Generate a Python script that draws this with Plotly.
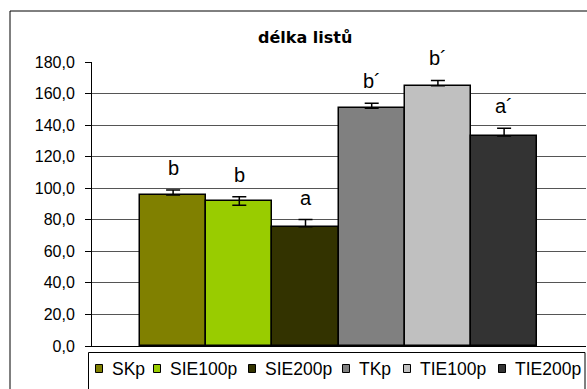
import plotly.graph_objects as go

# Leaf length per treatment
categories = ["SKp", "SIE100p", "SIE200p", "TKp", "TIE100p", "TIE200p"]
leaf_length = [95.7, 91.9, 75.6, 150.7, 164.9, 133.1]
err_plus = [3.2, 2.7, 4.5, 3.2, 3.4, 4.9]
err_minus = [0.0, 2.7, 0.0, 0.0, 0.0, 0.0]
sig_labels = ["b", "b", "a", "b\u00b4", "b\u00b4", "a\u00b4"]
bar_colors = ["#808000", "#99CC00", "#333300", "#808080", "#C0C0C0", "#333333"]

y_tick_values = [0, 20, 40, 60, 80, 100, 120, 140, 160, 180]
y_tick_labels = ["0,0", "20,0", "40,0", "60,0", "80,0", "100,0",
                 "120,0", "140,0", "160,0", "180,0"]

W, H = 587, 389
L, R, T, B = 92, 1, 62, 43
PW, PH = W - L - R, H - T - B
FONT = "Liberation Sans, Arial, sans-serif"


def px_x(px):
    return (px - L) / PW


def px_y(py):
    return (H - B - py) / PH


fig = go.Figure()
fig.add_trace(go.Bar(
    x=categories,
    y=leaf_length,
    marker=dict(color=bar_colors, line=dict(color="black", width=1.5)),
    error_y=dict(type="data", symmetric=False, array=err_plus,
                 arrayminus=err_minus, color="black", thickness=1.5, width=7),
    showlegend=False,
    hoverinfo="x+y",
))

annotations = []
# significance letters above the error bars
for cat, v, e, lab in zip(categories, leaf_length, err_plus, sig_labels):
    annotations.append(dict(
        x=cat, y=v + e, xref="x", yref="y", text=lab, showarrow=False,
        yanchor="bottom", xanchor="center", yshift=9,
        font=dict(family=FONT, size=20, color="black"),
    ))

# chart title
annotations.append(dict(
    x=px_x(305), y=px_y(37), xref="paper", yref="paper",
    text="<b>délka listů</b>", showarrow=False,
    xanchor="center", yanchor="middle",
    font=dict(family="DejaVu Sans, sans-serif", size=16, color="black"),
))

shapes = [
    # outer chart frame
    dict(type="rect", xref="paper", yref="paper",
         x0=px_x(10), x1=px_x(600), y0=px_y(420), y1=px_y(11),
         line=dict(color="black", width=1), fillcolor="rgba(0,0,0,0)",
         layer="below"),
    # legend frame
    dict(type="rect", xref="paper", yref="paper",
         x0=px_x(88.5), x1=px_x(585), y0=px_y(420), y1=px_y(352.5),
         line=dict(color="black", width=1), fillcolor="rgba(0,0,0,0)"),
]

# legend entries: coloured square + label
legend_text_left = [112, 170, 265, 359, 420, 515]
legend_y = 368.5
for name, col, tx in zip(categories, bar_colors, legend_text_left):
    sq = tx - 16.5
    shapes.append(dict(
        type="rect", xref="paper", yref="paper",
        x0=px_x(sq), x1=px_x(sq + 7), y0=px_y(legend_y + 4), y1=px_y(legend_y - 4),
        fillcolor=col, line=dict(color="black", width=1),
    ))
    annotations.append(dict(
        x=px_x(tx - 2), y=px_y(legend_y), xref="paper", yref="paper",
        text=name, showarrow=False, xanchor="left", yanchor="middle",
        font=dict(family=FONT, size=17.5, color="black"),
    ))

n = len(categories)
fig.update_layout(
    width=W, height=H,
    margin=dict(l=L, r=R, t=T, b=B, pad=0),
    paper_bgcolor="white", plot_bgcolor="white",
    bargap=0,
    showlegend=False,
    annotations=annotations,
    shapes=shapes,
    xaxis=dict(
        type="category", range=[-1.225, n + 0.237],
        showticklabels=False, ticks="", showgrid=False, zeroline=False,
        showline=True, linecolor="black", linewidth=1,
    ),
    yaxis=dict(
        range=[0, 180], tickvals=y_tick_values, ticktext=y_tick_labels,
        ticks="outside", ticklen=6, tickcolor="black", tickwidth=1,
        ticklabelstandoff=7,
        showline=True, linecolor="black", linewidth=1,
        showgrid=True, gridcolor="#555555", gridwidth=1, zeroline=False,
        tickfont=dict(family=FONT, size=16, color="black"),
    ),
)

fig.write_html("out.html")
